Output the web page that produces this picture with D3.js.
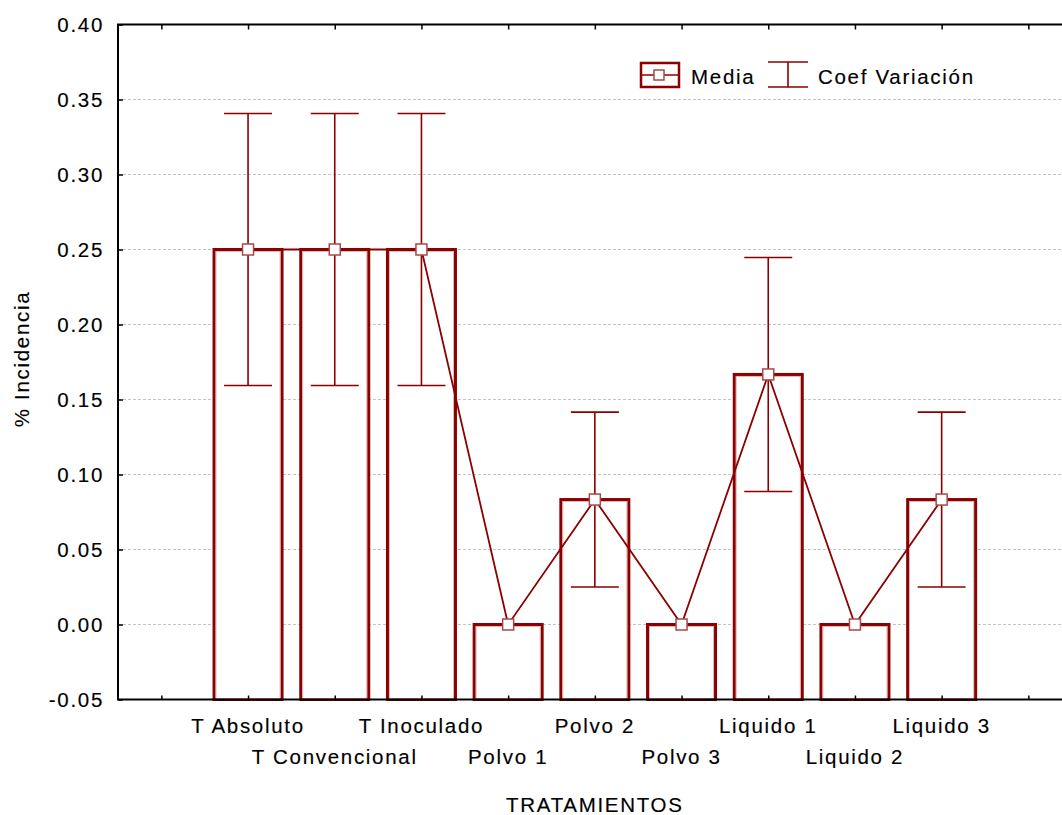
<!DOCTYPE html>
<html>
<head>
<meta charset="utf-8">
<script src="https://cdn.jsdelivr.net/npm/d3@7"></script>
<style>
  html, body { margin: 0; padding: 0; background: #fff; }
  svg { display: block; font-family: "Liberation Sans", Arial, sans-serif; }
  .lbl { font-size: 20.5px; letter-spacing: 1.7px; fill: #000; stroke: #000; stroke-width: 0.15px; }
</style>
</head>
<body>
<svg id="chart" width="1062" height="815"></svg>
<script>
// Treatments, mean incidence and coefficient-of-variation half widths
const categories = ["T Absoluto", "T Convencional", "T Inoculado", "Polvo 1", "Polvo 2",
                    "Polvo 3", "Liquido 1", "Liquido 2", "Liquido 3"];
const media = [0.25, 0.25, 0.25, 0, 0.0833, 0, 0.1667, 0, 0.0833];
const coefVariacion = [0.0907, 0.0907, 0.0907, 0, 0.0583, 0, 0.078, 0, 0.0583];
const yTicks = [-0.05, 0.00, 0.05, 0.10, 0.15, 0.20, 0.25, 0.30, 0.35, 0.40];

const RED = "#8b0000";
const svg = d3.select("#chart");

const plotLeft = 118, plotTop = 24.5, plotBottom = 699.5, step = 86.7;
const slots = d3.range(categories.length + 2);   // one empty slot on each side
const plotRight = plotLeft + slots.length * step;

const x = d3.scalePoint().domain(slots).range([plotLeft, plotRight]).padding(0.5);
const y = d3.scaleLinear().domain([-0.05, 0.40]).range([plotBottom, plotTop]);
const xc = i => x(i + 1);
const barW = 68, capW = 48;

// dashed horizontal gridlines
svg.append("g").selectAll("line")
  .data(yTicks.filter(v => v > -0.05 && v < 0.40))
  .join("line")
  .attr("x1", plotLeft).attr("x2", plotRight)
  .attr("y1", d => y(d)).attr("y2", d => y(d))
  .attr("stroke", "#c4c4c4").attr("stroke-width", 1)
  .attr("stroke-dasharray", "3,2");

// bars (outlined, white fill) rising from the axis floor
const bars = svg.append("g");
bars.selectAll("rect.outer")
  .data(media)
  .join("rect")
  .attr("class", "outer")
  .attr("x", (d, i) => xc(i) - barW / 2)
  .attr("width", barW)
  .attr("y", d => y(d))
  .attr("height", d => y(-0.05) - y(d))
  .attr("fill", "#fff").attr("stroke", RED).attr("stroke-width", 3);
bars.selectAll("rect.inner")
  .data(media)
  .join("rect")
  .attr("class", "inner")
  .attr("x", (d, i) => xc(i) - barW / 2 + 2)
  .attr("width", barW - 4)
  .attr("y", d => y(d) + 2)
  .attr("height", d => y(-0.05) - y(d) - 3)
  .attr("fill", "none").attr("stroke", "#dba8a8").attr("stroke-width", 0.8);

// error bars
const eb = svg.append("g").attr("stroke", RED).attr("stroke-width", 1.6);
media.forEach((m, i) => {
  const e = coefVariacion[i];
  if (e <= 0) return;
  const cx = xc(i);
  eb.append("line").attr("x1", cx).attr("x2", cx).attr("y1", y(m + e)).attr("y2", y(m - e));
  eb.append("line").attr("x1", cx - capW / 2).attr("x2", cx + capW / 2).attr("y1", y(m + e)).attr("y2", y(m + e));
  eb.append("line").attr("x1", cx - capW / 2).attr("x2", cx + capW / 2).attr("y1", y(m - e)).attr("y2", y(m - e));
});

// line joining the means
svg.append("path")
  .datum(media)
  .attr("d", d3.line().x((d, i) => xc(i)).y(d => y(d)))
  .attr("fill", "none").attr("stroke", RED).attr("stroke-width", 1.8);

// mean markers
svg.append("g").selectAll("rect")
  .data(media)
  .join("rect")
  .attr("x", (d, i) => xc(i) - 5.5)
  .attr("y", d => y(d) - 5.5)
  .attr("width", 11).attr("height", 11)
  .attr("fill", "#fff").attr("stroke", "#a84848").attr("stroke-width", 1.5);

// frame: left axis, top and bottom lines
svg.append("line").attr("x1", plotLeft).attr("x2", plotLeft).attr("y1", plotTop).attr("y2", plotBottom)
  .attr("stroke", "#000").attr("stroke-width", 2);
svg.append("line").attr("x1", plotLeft - 1).attr("x2", plotRight).attr("y1", plotTop).attr("y2", plotTop)
  .attr("stroke", "#000").attr("stroke-width", 2);
svg.append("line").attr("x1", plotLeft - 1).attr("x2", plotRight).attr("y1", plotBottom).attr("y2", plotBottom)
  .attr("stroke", "#000").attr("stroke-width", 2);

// y axis (inward ticks)
const yAxis = svg.append("g")
  .attr("transform", `translate(${plotLeft},0)`)
  .call(d3.axisRight(y).tickValues(yTicks).tickSize(5).tickFormat(""));
yAxis.select(".domain").remove();
yAxis.selectAll(".tick line").attr("stroke", "#000").attr("stroke-width", 1.5);
const fmt = d3.formatLocale({decimal: ".", thousands: ",", grouping: [3], currency: ["", ""], minus: "-"}).format(".2f");
svg.append("g").selectAll("text")
  .data(yTicks)
  .join("text")
  .attr("class", "lbl")
  .attr("x", 104).attr("y", d => y(d) + 7)
  .attr("text-anchor", "end")
  .text(d => fmt(d));

// top and bottom inward ticks at every slot
const xTop = svg.append("g").attr("transform", `translate(0,${plotTop})`)
  .call(d3.axisBottom(x).tickSize(5).tickFormat(""));
const xBot = svg.append("g").attr("transform", `translate(0,${plotBottom})`)
  .call(d3.axisTop(x).tickSize(4).tickFormat(""));
[xTop, xBot].forEach(g => {
  g.select(".domain").remove();
  g.selectAll(".tick line").attr("stroke", "#000").attr("stroke-width", 1.5);
});

// category labels, staggered on two rows
svg.append("g").selectAll("text")
  .data(categories)
  .join("text")
  .attr("class", "lbl")
  .attr("x", (d, i) => xc(i))
  .attr("y", (d, i) => i % 2 === 0 ? 733 : 764)
  .attr("text-anchor", "middle")
  .text(d => d);

// axis titles
svg.append("text").attr("class", "lbl")
  .attr("x", (plotLeft + plotRight) / 2).attr("y", 812)
  .attr("text-anchor", "middle").text("TRATAMIENTOS");
svg.append("text").attr("class", "lbl")
  .attr("transform", "translate(29,359) rotate(-90)")
  .attr("text-anchor", "middle").text("% Incidencia");

// legend
const lg = svg.append("g");
lg.append("rect").attr("x", 641).attr("y", 63).attr("width", 38).attr("height", 24)
  .attr("fill", "#fff").attr("stroke", RED).attr("stroke-width", 2.5);
lg.append("line").attr("x1", 641).attr("x2", 679).attr("y1", 75).attr("y2", 75)
  .attr("stroke", RED).attr("stroke-width", 1.6);
lg.append("rect").attr("x", 654).attr("y", 70).attr("width", 10).attr("height", 10)
  .attr("fill", "#fff").attr("stroke", "#a84848").attr("stroke-width", 1.5);
lg.append("text").attr("class", "lbl").attr("x", 691).attr("y", 84).text("Media");
const li = lg.append("g").attr("stroke", RED).attr("stroke-width", 1.6);
li.append("line").attr("x1", 768).attr("x2", 808).attr("y1", 62).attr("y2", 62);
li.append("line").attr("x1", 768).attr("x2", 808).attr("y1", 87).attr("y2", 87);
li.append("line").attr("x1", 788).attr("x2", 788).attr("y1", 62).attr("y2", 87);
lg.append("text").attr("class", "lbl").attr("x", 818).attr("y", 84).text("Coef Variación");
</script>
</body>
</html>
